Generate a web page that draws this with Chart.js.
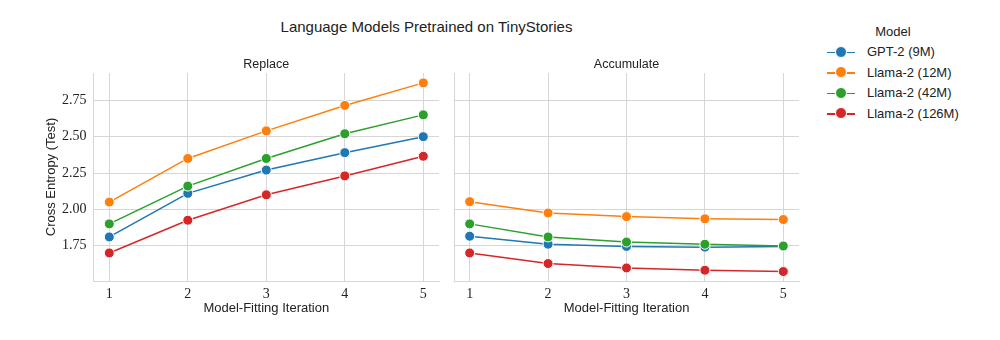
<!DOCTYPE html>
<html>
<head>
<meta charset="utf-8">
<script src="https://cdn.jsdelivr.net/npm/chart.js@4.4.1/dist/chart.umd.min.js"></script>
<style>
    html, body { margin: 0; padding: 0; background: #fff; overflow: hidden; }
    #fig { position: relative; width: 1000px; height: 340px; font-family: 'Liberation Sans', Arial, sans-serif; color: #222; }
    canvas { position: absolute; top: 0; }
    .txt { position: absolute; text-align: center; white-space: nowrap; }
    #legend { position: absolute; left: 827px; top: 22px; font-size: 13px; }
    #legend .lg-title { text-align: center; height: 20px; line-height: 20px; }
    #legend .lg-row { position: relative; height: 20.5px; line-height: 20.5px; padding-left: 40px; }
    #legend .lg-line { position: absolute; left: 0; top: 9.5px; width: 28px; height: 1.6px; }
    #legend .lg-dot { position: absolute; top: 4.5px; width: 10px; height: 10px; border-radius: 50%; border: 1px solid #fff; box-sizing: content-box; margin: -1px 0 0 -1px; }
</style>
</head>
<body>
<div id="fig">
    <div class="txt" style="left:0;width:853px;top:17px;line-height:20px;font-size:15px;">Language Models Pretrained on TinyStories</div>
    <canvas id="cv-replace" width="440" height="340" style="left:0;"></canvas>
    <canvas id="cv-accum" width="360" height="340" style="left:440px;"></canvas>
    <div id="legend"></div>
</div>
<script>
// values
const iterations = [1, 2, 3, 4, 5];
const xTicks = [1, 2, 3, 4, 5];
const yTicks = [1.75, 2.00, 2.25, 2.50, 2.75];
const modelNames = ['GPT-2 (9M)', 'Llama-2 (12M)', 'Llama-2 (42M)', 'Llama-2 (126M)'];
const modelColors = ['#1f77b4', '#ff7f0e', '#2ca02c', '#d62728'];

const replaceGpt2_9m = [1.81, 2.11, 2.27, 2.39, 2.50];
const replaceLlama_12m = [2.05, 2.35, 2.54, 2.715, 2.87];
const replaceLlama_42m = [1.90, 2.16, 2.35, 2.52, 2.65];
const replaceLlama_126m = [1.70, 1.925, 2.10, 2.23, 2.365];

const accumGpt2_9m = [1.815, 1.76, 1.745, 1.74, 1.745];
const accumLlama_12m = [2.053, 1.975, 1.95, 1.935, 1.93];
const accumLlama_42m = [1.90, 1.81, 1.775, 1.76, 1.748];
const accumLlama_126m = [1.70, 1.627, 1.597, 1.581, 1.572];

const yMin = 1.507, yMax = 2.938;
const xMin = 0.8, xMax = 5.2;

const GRID = '#d6d6d6';
const SANS = "'Liberation Sans', Arial, sans-serif";
const SERIF = "'Liberation Serif', 'Times New Roman', serif";

function datasets(seriesList) {
    return seriesList.map((vals, i) => ({
        label: modelNames[i],
        data: iterations.map((it, j) => ({ x: it, y: vals[j] })),
        borderColor: modelColors[i],
        backgroundColor: modelColors[i],
        borderWidth: 1.5,
        pointRadius: 5,
        pointBorderColor: '#fff',
        pointBorderWidth: 1,
        pointBackgroundColor: modelColors[i],
        order: seriesList.length - 1 - i, // later series on top, like matplotlib
        clip: false,
    }));
}

function makePanel(id, seriesList, showY, yAxisWidth) {
    return new Chart(document.getElementById(id), {
        type: 'line',
        data: { datasets: datasets(seriesList) },
        options: {
            responsive: false,
            animation: false,
            events: [],
            layout: { autoPadding: false, padding: { top: 73, right: 1, bottom: 19, left: 0 } },
            plugins: { legend: { display: false }, tooltip: { enabled: false }, title: { display: false } },
            scales: {
                x: {
                    type: 'linear', min: xMin, max: xMax,
                    afterBuildTicks: (s) => { s.ticks = xTicks.map((v) => ({ value: v })); },
                    afterFit: (s) => { s.height = 40; s.paddingLeft = 0; s.paddingRight = 0; },
                    grid: { color: GRID, lineWidth: 1, drawTicks: false },
                    border: { display: true, color: GRID, width: 1 },
                    ticks: { padding: 5, color: '#222', font: { family: SERIF, size: 14 }, callback: (v) => String(v) },
                    title: { display: true, text: 'Model-Fitting Iteration', color: '#222', font: { family: SANS, size: 13 }, padding: { top: 0, bottom: 5 } },
                },
                y: {
                    type: 'linear', min: yMin, max: yMax,
                    afterBuildTicks: (s) => { s.ticks = yTicks.map((v) => ({ value: v })); },
                    afterFit: (s) => { s.width = yAxisWidth; },
                    grid: { color: GRID, lineWidth: 1, drawTicks: false },
                    border: { display: true, color: GRID, width: 1 },
                    ticks: { display: showY, padding: 7, color: '#222', font: { family: SERIF, size: 14 }, callback: (v) => v.toFixed(2) },
                    title: { display: showY, text: 'Cross Entropy (Test)', color: '#222', font: { family: SANS, size: 13 }, padding: { top: 44, bottom: 0 } },
                },
            },
        },
    });
}

function panelTitle(chart, canvasLeft, text) {
    const a = chart.chartArea;
    const d = document.createElement('div');
    d.className = 'txt';
    d.style.cssText = `left:${canvasLeft + a.left}px;width:${a.right - a.left}px;top:${a.top - 17}px;line-height:16px;font-size:12.5px;`;
    d.textContent = text;
    document.getElementById('fig').appendChild(d);
}

const replaceChart = makePanel('cv-replace', [replaceGpt2_9m, replaceLlama_12m, replaceLlama_42m, replaceLlama_126m], true, 93.6);
const accumChart = makePanel('cv-accum', [accumGpt2_9m, accumLlama_12m, accumLlama_42m, accumLlama_126m], false, 14);
panelTitle(replaceChart, 0, 'Replace');
panelTitle(accumChart, 440, 'Accumulate');

// legend
const lg = document.getElementById('legend');
lg.innerHTML = '<div class="lg-title">Model</div>' + modelNames.map((name, i) =>
    `<div class="lg-row"><span class="lg-line" style="background:${modelColors[i]}"></span>` +
    `<span class="lg-dot" style="background:${modelColors[i]};left:9px;"></span>${name}</div>`).join('');
</script>
</body>
</html>
